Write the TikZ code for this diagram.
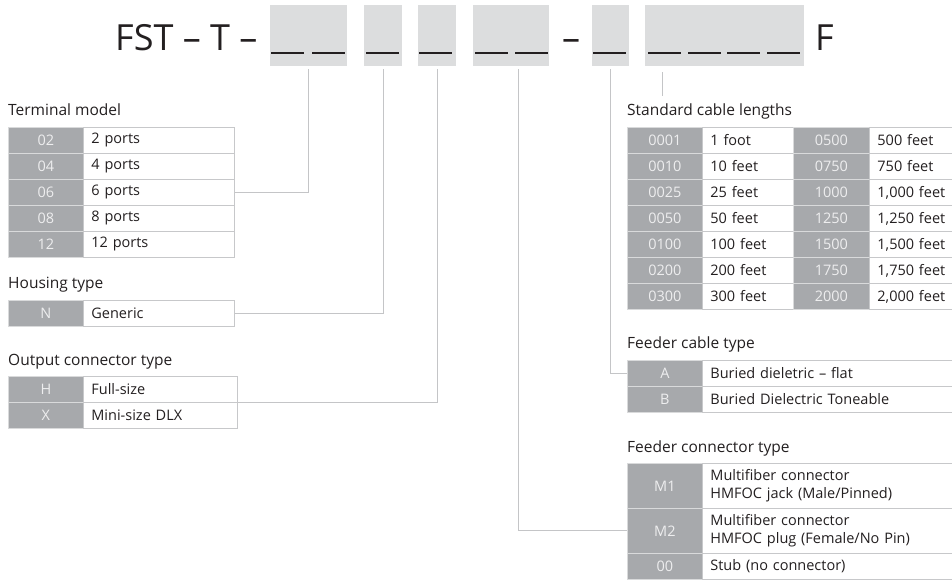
\documentclass[tikz,border=0pt]{standalone}
\usepackage{fontspec}
\setmainfont{Open Sans}
\definecolor{slotgrey}{HTML}{DCDDDE}
\definecolor{codegrey}{HTML}{A7A9AC}
\definecolor{codetext}{HTML}{EEEEEF}
\definecolor{codeline}{HTML}{D9DADB}
\definecolor{rulegrey}{HTML}{C7C8CA}
\definecolor{leadgrey}{HTML}{C4C5C7}
\definecolor{inkgrey}{HTML}{231F20}
\newcommand{\titlefont}{\fontsize{36}{40}\selectfont}
\newcommand{\headfont}{\fontsize{15.5}{18}\selectfont}
\newcommand{\cellfont}{\fontsize{14.5}{18}\selectfont}
\newcommand{\blank}[1]{\draw[blankline] (#1,53) -- ++(33,0);}

\begin{document}
\begin{tikzpicture}[x=1pt,y=-1pt,
    slot/.style={fill=slotgrey, anchor=north west, inner sep=0pt, minimum width=#1, minimum height=61pt},
    blankline/.style={draw=inkgrey, line width=1.6pt},
    head/.style={anchor=base west, inner sep=0pt, font=\headfont, text=inkgrey},
    code/.style={fill=codegrey, draw=codeline, line width=0.8pt, text=codetext, font=\cellfont,
      anchor=north west, inner sep=0pt, minimum width=75pt, minimum height=26pt},
    desc/.style={fill=white, draw=rulegrey, line width=0.8pt, text=inkgrey, font=\cellfont,
      anchor=north west, inner xsep=8pt, inner ysep=0pt, minimum height=26pt, align=left, text width=#1},
    lead/.style={draw=leadgrey, line width=0.9pt}]
      \useasboundingbox (0,0) rectangle (952,579);
      % part number
      \node (fst) at (115,50) [anchor=base west, inner sep=0pt, font=\titlefont, text=inkgrey] {FST -- T --};
      \node (s1) at (270,5) [slot=77pt] {};
      \node (s2) at (364,5) [slot=38pt] {};
      \node (s3) at (418,5) [slot=38pt] {};
      \node (s4) at (473,5) [slot=76pt] {};
      \node (dash) at (571,50) [anchor=base, inner sep=0pt, font=\titlefont, text=inkgrey] {--};
      \node (s5) at (592,5) [slot=37pt] {};
      \node (s6) at (645,5) [slot=159pt] {};
      \node (fin) at (815,50) [anchor=base west, inner sep=0pt, font=\titlefont, text=inkgrey] {F};
      \blank{271}\blank{312}\blank{366}\blank{419}\blank{475}\blank{515}
      \blank{593}\blank{648}\blank{688}\blank{727}\blank{767}
      % terminal model
      \node (tmhead) at (8,115) [head] {Terminal model};
      \node (tm1) at (8,127) [code] {02};
      \node (tm1d) at (83,127) [desc=135pt] {2 ports};
      \node (tm2) at (8,153) [code] {04};
      \node (tm2d) at (83,153) [desc=135pt] {4 ports};
      \node (tm3) at (8,179) [code] {06};
      \node (tm3d) at (83,179) [desc=135pt] {6 ports};
      \node (tm4) at (8,205) [code] {08};
      \node (tm4d) at (83,205) [desc=135pt] {8 ports};
      \node (tm5) at (8,231) [code] {12};
      \node (tm5d) at (83,231) [desc=135pt] {12 ports};
      % housing type
      \node (hthead) at (8,288) [head] {Housing type};
      \node (ht1) at (8,300) [code] {N};
      \node (ht1d) at (83,300) [desc=135pt] {Generic};
      % output connector type
      \node (ochead) at (8,365) [head] {Output connector type};
      \node (oc1) at (8,376) [code] {H};
      \node (oc1d) at (83,376) [desc=138pt] {Full-size};
      \node (oc2) at (8,402) [code] {X};
      \node (oc2d) at (83,402) [desc=138pt] {Mini-size DLX};
      % standard cable lengths
      \node (slhead) at (627,115) [head] {Standard cable lengths};
      \node (sl1) at (627,127) [code] {0001};
      \node (sl1d) at (702,127) [desc=75pt] {1 foot};
      \node (sl2) at (627,153) [code] {0010};
      \node (sl2d) at (702,153) [desc=75pt] {10 feet};
      \node (sl3) at (627,179) [code] {0025};
      \node (sl3d) at (702,179) [desc=75pt] {25 feet};
      \node (sl4) at (627,205) [code] {0050};
      \node (sl4d) at (702,205) [desc=75pt] {50 feet};
      \node (sl5) at (627,231) [code] {0100};
      \node (sl5d) at (702,231) [desc=75pt] {100 feet};
      \node (sl6) at (627,257) [code] {0200};
      \node (sl6d) at (702,257) [desc=75pt] {200 feet};
      \node (sl7) at (627,283) [code] {0300};
      \node (sl7d) at (702,283) [desc=75pt] {300 feet};
      \node (sl8) at (793,127) [code, minimum width=76pt] {0500};
      \node (sl8d) at (869,127) [desc=75pt] {500 feet};
      \node (sl9) at (793,153) [code, minimum width=76pt] {0750};
      \node (sl9d) at (869,153) [desc=75pt] {750 feet};
      \node (sl10) at (793,179) [code, minimum width=76pt] {1000};
      \node (sl10d) at (869,179) [desc=75pt] {1,000 feet};
      \node (sl11) at (793,205) [code, minimum width=76pt] {1250};
      \node (sl11d) at (869,205) [desc=75pt] {1,250 feet};
      \node (sl12) at (793,231) [code, minimum width=76pt] {1500};
      \node (sl12d) at (869,231) [desc=75pt] {1,500 feet};
      \node (sl13) at (793,257) [code, minimum width=76pt] {1750};
      \node (sl13d) at (869,257) [desc=75pt] {1,750 feet};
      \node (sl14) at (793,283) [code, minimum width=76pt] {2000};
      \node (sl14d) at (869,283) [desc=75pt] {2,000 feet};
      % feeder cable type
      \node (fchead) at (627,348) [head] {Feeder cable type};
      \node (fc1) at (627,360) [code] {A};
      \node (fc1d) at (702,360) [desc=240pt] {Buried dieletric -- flat};
      \node (fc2) at (627,386) [code] {B};
      \node (fc2d) at (702,386) [desc=240pt] {Buried Dielectric Toneable};
      % feeder connector type
      \node (fnhead) at (627,452) [head] {Feeder connector type};
      \node (fn1) at (627,463) [code, minimum height=45pt] {M1};
      \node (fn1d) at (702,463) [desc=240pt, minimum height=45pt] {Multifiber connector\\HMFOC jack (Male/Pinned)};
      \node (fn2) at (627,508) [code, minimum height=45pt] {M2};
      \node (fn2d) at (702,508) [desc=240pt, minimum height=45pt] {Multifiber connector\\HMFOC plug (Female/No Pin)};
      \node (fn3) at (627,553) [code] {00};
      \node (fn3d) at (702,553) [desc=240pt] {Stub (no connector)};
      % leader lines
      \coordinate (s4tap) at (518,69);
      \coordinate (s6tap) at (662,72);
      \coordinate (s6end) at (662,96);
      \draw[lead]
      ([yshift=-3pt]s1.south) |- (tm3d.east)
      ([yshift=-3pt]s2.south) |- (ht1d.east)
      ([yshift=-3pt]s3.south) |- (oc1d.south east)
      (s4tap) |- (fn2.west)
      ([yshift=-3pt]s5.south) |- (fc1.west)
      (s6tap) -- (s6end);
\end{tikzpicture}
\end{document}
